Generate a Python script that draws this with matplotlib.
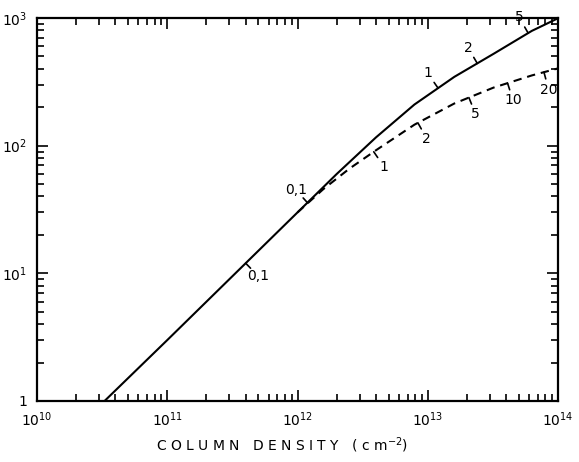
import numpy as np
import matplotlib.pyplot as plt
from matplotlib.ticker import LogLocator, NullFormatter, FixedLocator, FixedFormatter

# Đường liền (solid curve)
n_solid = [3.3e10, 1e11, 1e12, 2e12, 4e12, 7.9e12, 1.6e13, 3.2e13, 6.3e13, 1e14]
w_solid = [1.0, 3.0, 30, 60, 116, 210, 346, 524, 793, 995]

# Đường đứt nét (dashed curve)
n_dash = [1e12, 1.58e12, 2.5e12, 4e12, 7.9e12, 1.6e13, 3.2e13, 6.3e13, 1e14]
w_dash = [30, 45.7, 66, 92, 146, 214, 285, 355, 403]

# Nhãn trên các đường
solid_mark_x = [4e11, 1.2e13, 2.4e13, 5.9e13]
solid_mark_lab = ['0,1', '1', '2', '5']
solid_mark_side = [-1, 1, 1, 1]
dash_mark_x = [1.2e12, 3.85e12, 8.4e12, 2.07e13, 4.1e13, 7.8e13]
dash_mark_lab = ['0,1', '1', '2', '5', '10', '20']
dash_mark_side = [1, -1, -1, -1, -1, -1]

x_ticks = [1e10, 1e11, 1e12, 1e13, 1e14]
x_labels = [r'$10^{10}$', r'$10^{11}$', r'$10^{12}$', r'$10^{13}$', r'$10^{14}$']
y_ticks = [1, 10, 100, 1000]
y_labels = ['1', r'$10^{1}$', r'$10^{2}$', r'$10^{3}$']

plt.rcParams['mathtext.default'] = 'regular'

fig = plt.figure(figsize=(5.79, 4.62), dpi=100)
ax = fig.add_axes([37/579, 1 - 401/462, (558 - 37)/579, (401 - 18)/462])
ax.set_xscale('log')
ax.set_yscale('log')
ax.set_xlim(1e10, 1e14)
ax.set_ylim(1, 1e3)

ax.plot(n_solid, w_solid, color='black', lw=1.5)
ax.plot(n_dash, w_dash, color='black', lw=1.5, dashes=(4, 2.8))

ax.xaxis.set_major_locator(FixedLocator(x_ticks))
ax.xaxis.set_major_formatter(FixedFormatter(x_labels))
ax.yaxis.set_major_locator(FixedLocator(y_ticks))
ax.yaxis.set_major_formatter(FixedFormatter(y_labels))
ax.xaxis.set_minor_locator(LogLocator(base=10, subs=np.arange(2, 10), numticks=20))
ax.yaxis.set_minor_locator(LogLocator(base=10, subs=np.arange(2, 10), numticks=20))
ax.xaxis.set_minor_formatter(NullFormatter())
ax.yaxis.set_minor_formatter(NullFormatter())
ax.tick_params(which='both', direction='in', top=True, right=True, width=1.2, labelsize=10)
ax.tick_params(which='major', length=8, pad=7)
ax.tick_params(which='minor', length=5)
for s in ax.spines.values():
    s.set_linewidth(1.6)

ax.set_xlabel(r'C O L U M N   D E N S I T Y   ( c m$^{-2}$)', fontsize=10, labelpad=6)
ax.xaxis.set_label_coords(0.47, -0.09)


def mark_curve(xs, ys, mx, labs, sides):
    lx, ly = np.log10(xs), np.log10(ys)
    for x, lab, side in zip(mx, labs, sides):
        y = 10 ** np.interp(np.log10(x), lx, ly)
        y0 = 10 ** np.interp(np.log10(x) - 0.05, lx, ly)
        y1 = 10 ** np.interp(np.log10(x) + 0.05, lx, ly)
        p0 = ax.transData.transform((x / 10 ** 0.05, y0))
        p1 = ax.transData.transform((x * 10 ** 0.05, y1))
        d = (p1 - p0) / np.hypot(*(p1 - p0))
        nrm = np.array([-d[1], d[0]]) * side
        ax.annotate('', xy=(x, y), xytext=nrm * 5, textcoords='offset points',
                    arrowprops=dict(arrowstyle='-', lw=1.2, shrinkA=0, shrinkB=0))
        ax.annotate(lab, xy=(x, y), xytext=nrm * 13, textcoords='offset points',
                    ha='center', va='center', fontsize=10)


mark_curve(n_solid, w_solid, solid_mark_x, solid_mark_lab, solid_mark_side)
mark_curve(n_dash, w_dash, dash_mark_x, dash_mark_lab, dash_mark_side)

fig.savefig('out.png', dpi=100)
